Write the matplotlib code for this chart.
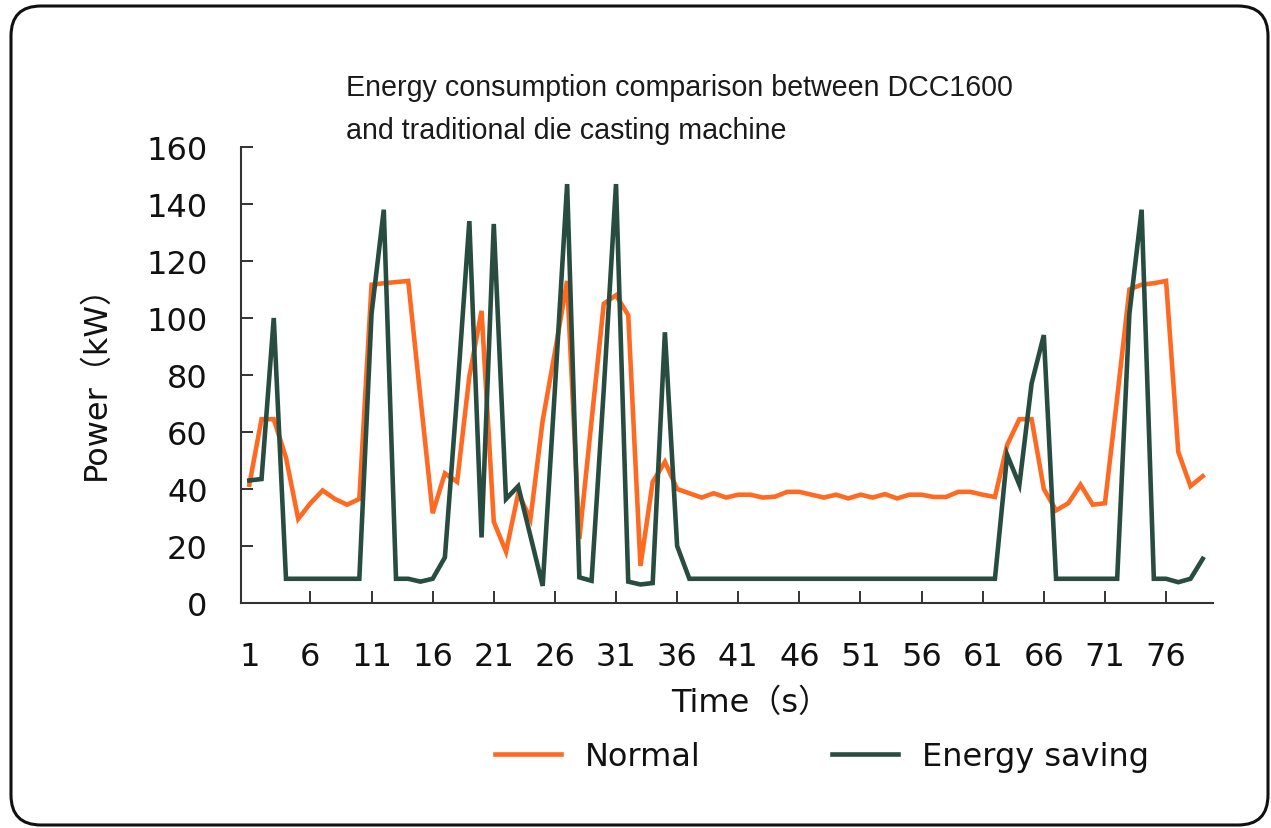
import matplotlib
matplotlib.use('Agg')
import matplotlib.pyplot as plt
from matplotlib.patches import FancyBboxPatch
from matplotlib.transforms import IdentityTransform

# datos (Power kW por segundo)
tiempo = list(range(1, 80))
normal = [41.5, 64.5, 64.5, 51, 29.5, 35, 39.5, 36.5, 34.5, 36.5,
          111.7, 112.2, 112.6, 113, 72, 31.5, 45.5, 42.5, 79.5, 102.5,
          28.5, 18, 38.5, 29.5, 64, 88, 113, 22.5, 64, 105,
          108, 101, 13, 42.5, 49.5, 40, 38.5, 37, 38.5, 37,
          38, 38, 37, 37.3, 39, 39, 38, 37, 38, 36.7,
          38, 37, 38.2, 36.7, 38, 38, 37.2, 37.2, 39, 39,
          38, 37.2, 55.5, 64.5, 64.5, 40, 32.5, 35, 41.5, 34.5,
          35, 72, 110, 111.7, 112.2, 113, 53, 41, 44.5]
ahorro = [43, 43.5, 100, 8.5, 8.5, 8.5, 8.5, 8.5, 8.5, 8.5,
          101.5, 138, 8.5, 8.5, 7.5, 8.5, 16, 73, 134, 23,
          133, 36.5, 41, 23.5, 6, 75, 147, 9, 7.8, 75,
          147, 7.5, 6.5, 7, 95, 20, 8.5, 8.5, 8.5, 8.5,
          8.5, 8.5, 8.5, 8.5, 8.5, 8.5, 8.5, 8.5, 8.5, 8.5,
          8.5, 8.5, 8.5, 8.5, 8.5, 8.5, 8.5, 8.5, 8.5, 8.5,
          8.5, 8.5, 52, 41.5, 77, 94, 8.5, 8.5, 8.5, 8.5,
          8.5, 8.5, 101.5, 138, 8.5, 8.5, 7.3, 8.5, 15.5]
xticks = [1, 6, 11, 16, 21, 26, 31, 36, 41, 46, 51, 56, 61, 66, 71, 76]
yticks = [0, 20, 40, 60, 80, 100, 120, 140, 160]

naranja = '#FF6A22'
verde = '#284C40'
fuente = ['DejaVu Sans', 'Noto Sans CJK SC']

W, H = 1271, 829
fig = plt.figure(figsize=(W / 100, H / 100), dpi=100)
ax = fig.add_axes([241 / W, 1 - 604 / H, 972 / W, 456 / H])

ax.plot(tiempo, normal, color=naranja, lw=3.3, label='Normal',
        solid_joinstyle='miter', clip_on=False, zorder=3)
ax.plot(tiempo, ahorro, color=verde, lw=3.3, label='Energy saving',
        solid_joinstyle='miter', clip_on=False, zorder=4)

ax.set_xlim(0.32, 79.84)
ax.set_ylim(0, 160)
ax.set_xticks(xticks)
ax.set_yticks(yticks)
for s in ['top', 'right']:
    ax.spines[s].set_visible(False)
for s in ['left', 'bottom']:
    ax.spines[s].set_linewidth(1.5)
    ax.spines[s].set_color('#333333')
ax.tick_params(axis='both', direction='in', length=8.6, width=1.4,
               color='#333333', labelsize=23, labelcolor='#111111')
ax.tick_params(axis='x', pad=27)
ax.tick_params(axis='y', pad=24)
ax.xaxis.get_major_ticks()[0].tick1line.set_visible(False)
for lab in ax.get_xticklabels() + ax.get_yticklabels():
    lab.set_family(fuente)

fig.text(96 / W, 1 - 374 / H, 'Power（kW）', rotation=90, ha='center',
         va='center', fontsize=23, family=fuente, color='#111111')
fig.text(751 / W, 1 - 703 / H, 'Time（s）', ha='center', va='center',
         fontsize=23, family=fuente, color='#111111')

fig.text(346 / W, 1 - 88 / H, 'Energy consumption comparison between DCC1600',
         ha='left', va='center', fontsize=20.6, family=['Liberation Sans', 'DejaVu Sans'],
         color='#1a1a1a')
fig.text(346 / W, 1 - 131 / H, 'and traditional die casting machine',
         ha='left', va='center', fontsize=20.6, family=['Liberation Sans', 'DejaVu Sans'],
         color='#1a1a1a')

leg = fig.legend(loc='center', bbox_to_anchor=(822 / W, 1 - 758 / H), ncol=2,
                 frameon=False, handlelength=2.06, handletextpad=0.75,
                 columnspacing=4.1, prop={'family': fuente, 'size': 23})
for t in leg.get_texts():
    t.set_color('#111111')

# marco redondeado
marco = FancyBboxPatch((11, 3), 1257, 819, boxstyle='round,pad=0,rounding_size=30',
                       transform=IdentityTransform(), fill=False,
                       edgecolor='#111111', linewidth=2.2)
fig.patches.append(marco)

fig.savefig('out.png', dpi=100)
